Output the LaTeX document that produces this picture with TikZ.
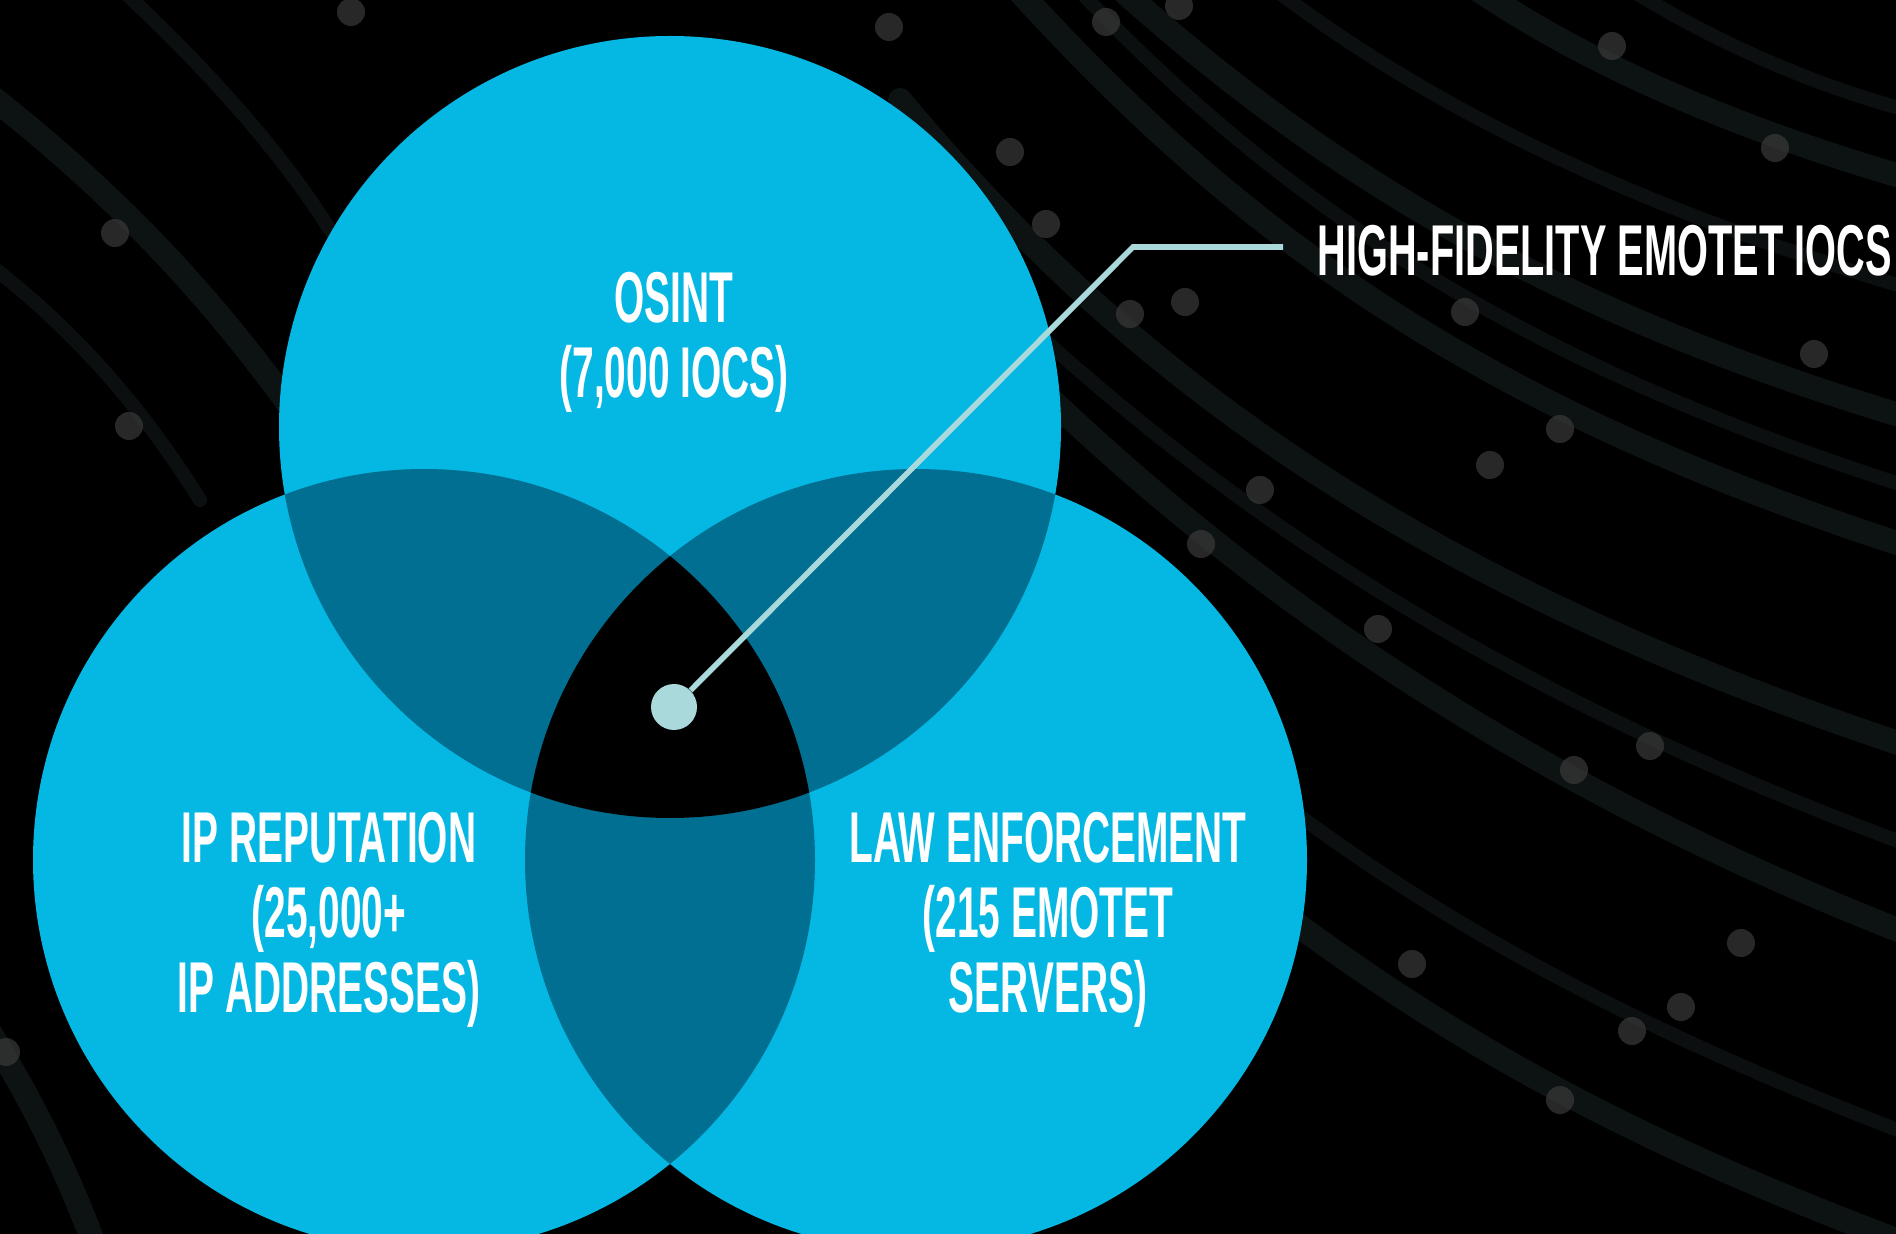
\documentclass[tikz,border=0pt]{standalone}
\usepackage{fontspec}
\newfontfamily\condfont[FakeStretch=0.54]{Liberation Sans}
\newfontfamily\titlefont[FakeStretch=0.552]{Liberation Sans}
\definecolor{vblue}{HTML}{04B8E3}
\definecolor{vdark}{HTML}{016F91}
\definecolor{vline}{HTML}{AAD9DC}
\definecolor{streakc}{HTML}{1E282C}
\definecolor{motec}{HTML}{3A3A3A}
\begin{document}
\begin{tikzpicture}[x=0.5pt,y=-0.5pt,
  lbl/.style={text=white, font=\condfont\bfseries\fontsize{36pt}{37.5pt}\selectfont, align=center, inner sep=0pt},
  ttl/.style={text=white, font=\titlefont\bfseries\fontsize{36pt}{37.5pt}\selectfont, inner sep=0pt},
  streak/.style={draw=streakc, line width=12pt, opacity=0.45, line cap=round},
  thinstreak/.style={streak, line width=7pt, opacity=0.38},
  mote/.style={fill=motec, opacity=0.7},
  venn/.style={fill=vblue},
  lens/.style={fill=vdark},
  core/.style={fill=black},
  leader/.style={draw=vline, line width=2.8pt}]
\useasboundingbox (0,0) rectangle (1896,1234);
\fill[black] (0,0) rectangle (1896,1234);
% background streaks and motes
\begin{scope}
\clip (0,0) rectangle (1896,1234);
\draw[streak] (1000,-30) .. controls (1250,250) and (1500,420) .. (1950,560);
\draw[thinstreak] (1060,-30) .. controls (1300,230) and (1560,380) .. (1950,500);
\draw[streak] (1100,-30) .. controls (1350,200) and (1600,330) .. (1950,430);
\draw[thinstreak] (1250,-30) .. controls (1450,130) and (1700,230) .. (1950,300);
\draw[streak] (1450,-30) .. controls (1600,80) and (1800,150) .. (1950,190);
\draw[thinstreak] (1600,-30) .. controls (1720,50) and (1850,100) .. (1950,120);
\draw[streak] (900,100) .. controls (1150,400) and (1450,600) .. (1950,760);
\draw[thinstreak] (950,250) .. controls (1200,500) and (1500,700) .. (1950,860);
\draw[streak] (1000,350) .. controls (1250,600) and (1550,800) .. (1950,950);
\draw[thinstreak] (1050,600) .. controls (1300,850) and (1550,1000) .. (1950,1150);
\draw[streak] (1200,850) .. controls (1450,1050) and (1650,1150) .. (1950,1260);
\draw[streak] (-30,80) .. controls (100,180) and (200,280) .. (300,420);
\draw[thinstreak] (-30,250) .. controls (80,330) and (150,420) .. (200,500);
\draw[thinstreak] (100,-30) .. controls (200,60) and (280,150) .. (330,230);
\draw[streak] (-30,1000) .. controls (20,1080) and (60,1150) .. (100,1260);
\foreach \px/\py in {351/12,889/27,1106/22,1179/6,1612/46,1775/148,1814/354,1010/152,1046/224,1130/314,1185/302,1465/312,1560/429,1490/465,1260/490,1201/544,1378/629,1574/770,1650/746,1741/943,1412/964,1681/1007,1632/1031,1560/1100,115/233,129/426,6/1052}
  \fill[mote] (\px,\py) circle[radius=7pt];
\end{scope}
% Venn circles
\fill[venn] (670,427) circle[radius=195.5pt];
\fill[venn] (424,860) circle[radius=195.5pt];
\fill[venn] (916,860) circle[radius=195.5pt];
\begin{scope}
\clip (670,427) circle[radius=195.5pt];
\fill[lens] (424,860) circle[radius=195.5pt];
\fill[lens] (916,860) circle[radius=195.5pt];
\end{scope}
\begin{scope}
\clip (424,860) circle[radius=195.5pt];
\fill[lens] (916,860) circle[radius=195.5pt];
\end{scope}
\begin{scope}
\clip (670,427) circle[radius=195.5pt];
\clip (424,860) circle[radius=195.5pt];
\fill[core] (916,860) circle[radius=195.5pt];
\end{scope}
% labels (anchor = baseline of the last line)
\node[lbl, anchor=base] (osint) at (674,398) {OSINT\\(7,000 IOCS)};
\node[lbl, anchor=base] (iprep) at (329,1012) {IP REPUTATION\\(25,000+\\IP ADDRESSES)};
\node[lbl, anchor=base] (law) at (1048,1012) {LAW ENFORCEMENT\\(215 EMOTET\\SERVERS)};
\node[ttl, anchor=base west] (title) at (1317,276) {HIGH-FIDELITY EMOTET IOCS};
% leader
\node[circle, fill=vline, inner sep=0pt, minimum size=23pt] (hub) at (674,707) {};
\coordinate (bend) at (1133,247);
\coordinate (tail) at (1283,247);
\draw[leader] (hub) -- (bend) -- (tail);
\end{tikzpicture}
\end{document}
